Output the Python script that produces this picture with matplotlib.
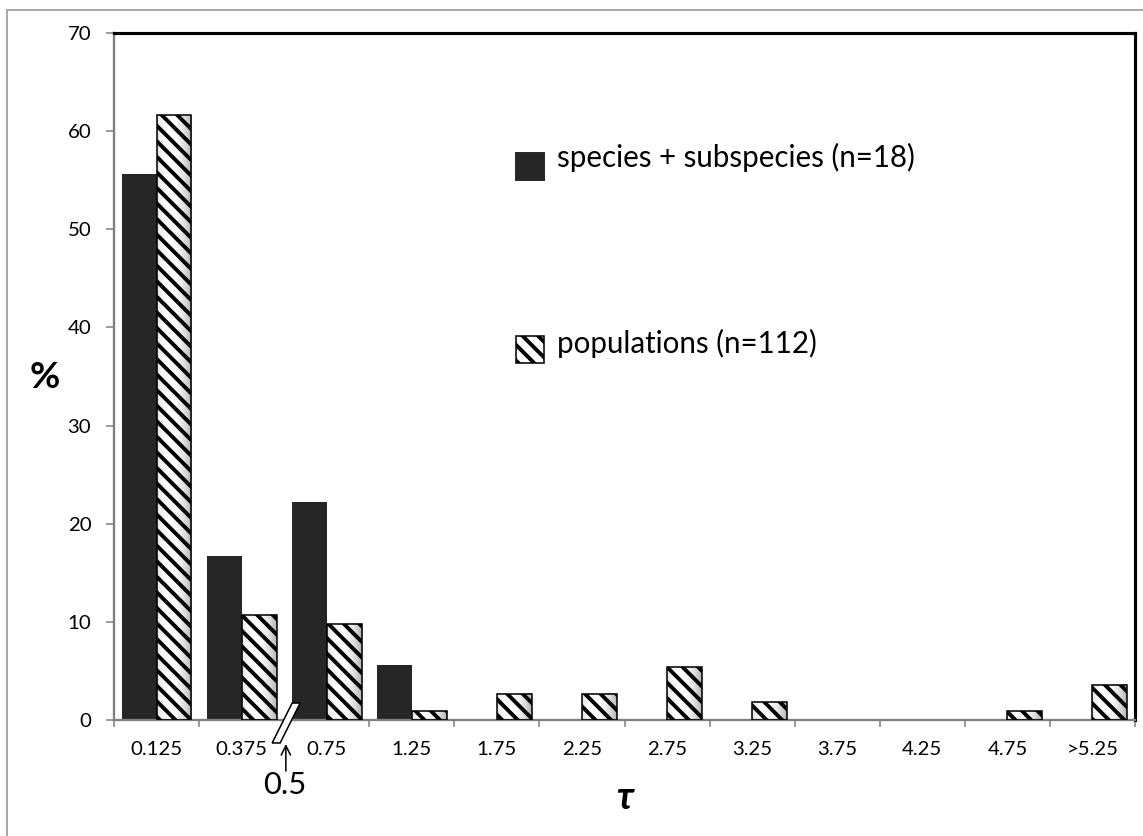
import numpy as np
import matplotlib
matplotlib.use('Agg')
import matplotlib.pyplot as plt
from matplotlib.patches import Rectangle, Polygon
from matplotlib.lines import Line2D

plt.rcParams['font.family'] = ['Lato', 'Noto Sans', 'DejaVu Sans']
plt.rcParams['hatch.linewidth'] = 2.0

# 数据
categories = ['0.125', '0.375', '0.75', '1.25', '1.75', '2.25', '2.75',
              '3.25', '3.75', '4.25', '4.75', '>5.25']
species_pct = [55.6, 16.7, 22.2, 5.6, 0, 0, 0, 0, 0, 0, 0, 0]
population_pct = [61.6, 10.7, 9.8, 0.9, 2.7, 2.7, 5.4, 1.8, 0, 0, 0.9, 3.6]
legend_labels = ['species + subspecies (n=18)', 'populations (n=112)']
y_ticks = [0, 10, 20, 30, 40, 50, 60, 70]
break_value = '0.5'

DPI = 140
W, H = 1143, 836
fig = plt.figure(figsize=(W / DPI, H / DPI), dpi=DPI)
ax = fig.add_axes([114 / W, 116 / H, 1021 / W, 687 / H])

x = np.arange(len(categories))
bw = 0.41
dark = '#262626'
hatch = '\\\\\\'

# 实心柱
ax.bar(x - bw / 2, species_pct, width=bw, color=dark, linewidth=0, zorder=2)

# 斜线柱：先画渐变底色，再叠加斜线
grad = 1 - 0.3 * np.linspace(-0.6, 1, 60) ** 2
for xi, v in zip(x, population_pct):
    if v <= 0:
        continue
    ax.imshow(grad[None, :], extent=[xi, xi + bw, 0, v], cmap='gray',
              vmin=0, vmax=1, aspect='auto', zorder=1, interpolation='bilinear')
bars = ax.bar(x + bw / 2, population_pct, width=bw, facecolor='none',
              edgecolor='black', hatch=hatch, linewidth=0.8, zorder=3)
for b, v in zip(bars, population_pct):
    if v <= 0:
        b.set_visible(False)

ax.set_xlim(-0.5, len(categories) - 0.5)
ax.set_ylim(0, 70)
ax.set_aspect('auto')

ax.set_yticks(y_ticks)
ax.tick_params(axis='y', length=4.2, width=0.8, color='#808080', pad=7.5,
               labelsize=10.5)
ax.set_xticks(x)
ax.set_xticklabels(categories)
ax.tick_params(axis='x', which='major', length=0, pad=11, labelsize=10.5)
ax.set_xticks(np.arange(len(categories) + 1) - 0.5, minor=True)
ax.tick_params(axis='x', which='minor', length=3.8, width=0.8, color='#808080')

for s in ['left', 'bottom']:
    ax.spines[s].set_color('#7f7f7f')
    ax.spines[s].set_linewidth(1.2)
for s in ['top', 'right']:
    ax.spines[s].set_color('black')
    ax.spines[s].set_linewidth(1.6)

ax.set_ylabel('%', fontsize=19, fontweight='bold', rotation=0,
              ha='center', va='center')
ax.yaxis.set_label_coords(-0.0676, 0.498)
ax.set_xlabel('τ', fontsize=20, fontweight='bold', fontstyle='italic',
              va='center')
ax.xaxis.set_label_coords(0.5, -0.1135)

# 图例（手动）
ax.add_patch(Rectangle((0.3937, 0.786), 0.0274, 0.040, transform=ax.transAxes,
                       facecolor=dark, edgecolor=dark, clip_on=False, zorder=4))
ax.text(0.4339, 0.819, legend_labels[0], transform=ax.transAxes,
        fontsize=15.2, va='center', ha='left')
ax.add_patch(Rectangle((0.3937, 0.520), 0.0274, 0.039, transform=ax.transAxes,
                       facecolor='white', edgecolor='black', hatch=hatch,
                       linewidth=0.8, clip_on=False, zorder=4))
ax.text(0.4339, 0.548, legend_labels[1], transform=ax.transAxes,
        fontsize=15.2, va='center', ha='left')

# 坐标轴断裂标记
bx = 1.5
brk = Polygon([(bx - 0.141, -2.34), (bx - 0.047, -2.34),
               (bx + 0.188, 1.73), (bx + 0.094, 1.73)], closed=True,
              facecolor='white', edgecolor='black', linewidth=0.8,
              clip_on=False, zorder=6)
ax.add_patch(brk)
ax.annotate('', xy=(bx + 0.02, -2.05), xytext=(bx + 0.02, -5.6),
            arrowprops=dict(arrowstyle='->', color='black', lw=0.8,
                            mutation_scale=12),
            annotation_clip=False)
ax.text(bx + 0.01, -6.6, break_value, fontsize=16, ha='center', va='center')

# 外框
fig.add_artist(Line2D([7 / W, 7 / W], [0, 1 - 10 / H], color='#a6a6a6', lw=1.0))
fig.add_artist(Line2D([7 / W, 1], [1 - 10 / H, 1 - 10 / H], color='#a6a6a6', lw=1.0))

fig.savefig('out.png', dpi=DPI)
